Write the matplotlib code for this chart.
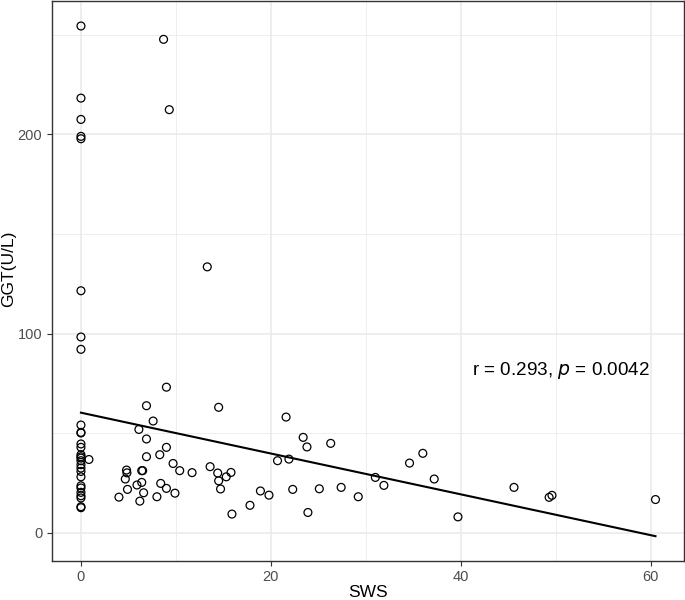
import matplotlib
matplotlib.use("Agg")
import matplotlib.pyplot as plt

plt.rcParams['font.family'] = ['Liberation Sans', 'DejaVu Sans']

# SWS value of each subject (x) and GGT (y)
sws = [0, 0, 0, 0, 0, 0, 0, 0, 0,
       0, 0, 0, 0, 0, 0, 0, 0, 0, 0, 0, 0, 0, 0, 0, 0, 0, 0, 0,
       0.84, 8.7, 9.3, 13.3, 9.0, 6.9, 14.5, 7.6, 6.1, 6.9, 9.0, 8.3, 6.9,
       9.7, 4.8, 4.84, 6.4, 6.5, 10.4, 11.7, 13.6, 14.4, 15.3, 15.8, 14.5,
       4.67, 6.4, 5.9, 8.4, 9.0, 14.7, 4.9, 6.6, 9.9, 4.0, 8.0, 6.2, 15.9,
       17.8, 21.6, 23.4, 23.8, 26.3, 20.7, 21.9, 18.9, 19.8, 22.3, 23.9,
       25.1, 27.4, 29.2, 31.0, 31.9, 34.6, 36.0, 37.2, 39.7, 45.6, 49.3,
       49.6, 60.5]
ggt = [254.4, 218.2, 207.5, 199, 197.8, 121.5, 98.3, 92.1, 54.1,
       50.4, 50.1, 44.6, 42.9, 39.2, 38.2, 37.5, 36.2, 34.2, 32.5, 30.8,
       28.1, 23.6, 22.5, 20.3, 18.6, 17.5, 13.1, 12.6,
       36.8, 247.7, 212.4, 133.5, 73.1, 63.8, 63.0, 56.1, 51.9, 47.1, 42.9,
       39.2, 38.2, 34.8, 31.5, 30.1, 31.2, 31.2, 31.2, 30.2, 33.2, 30.0,
       28.1, 30.3, 26.1, 27.0, 25.3, 24.0, 24.8, 22.3, 22.0, 21.8, 20.1,
       19.9, 17.9, 18.1, 15.9, 9.4, 13.8, 58.1, 47.9, 43.1, 44.9, 36.2,
       37.0, 21.0, 18.9, 21.8, 10.2, 22.1, 22.8, 18.1, 27.8, 23.8, 35.0,
       39.9, 27.0, 8.0, 22.8, 17.8, 18.8, 16.7]

# regression line end points
fit_x = [0, 60.5]
fit_y = [60.3, -1.7]

x_ticks = [0, 20, 40, 60]
y_ticks = [0, 100, 200]
x_minor = [10, 30, 50]
y_minor = [50, 150, 250]

fig = plt.figure(figsize=(6.85, 6.0), dpi=100)
ax = fig.add_axes([0.0759, 0.0655, 0.9226, 0.9330])

for v in x_minor:
    ax.axvline(v, color='#ebebeb', lw=0.6, zorder=0)
for v in y_minor:
    ax.axhline(v, color='#ebebeb', lw=0.6, zorder=0)
for v in x_ticks:
    ax.axvline(v, color='#ebebeb', lw=1.2, zorder=0)
for v in y_ticks:
    ax.axhline(v, color='#ebebeb', lw=1.2, zorder=0)

ax.scatter(sws, ggt, s=32, facecolors='none', edgecolors='black',
           linewidths=0.9, zorder=3)
ax.plot(fit_x, fit_y, color='black', lw=1.5, zorder=2)

ax.text(50.5, 81.4, r'r = 0.293, $\it{p}$ = 0.0042', fontsize=13.6,
        ha='center', va='center')

ax.set_xlim(-3.05, 63.5)
ax.set_ylim(-14, 267)
ax.set_xticks(x_ticks)
ax.set_yticks(y_ticks)
ax.tick_params(colors='#333333', labelcolor='#4d4d4d', labelsize=10.5,
               length=3.7, width=0.8, pad=3.3)
for s in ax.spines.values():
    s.set_color('#333333')
    s.set_linewidth(1.0)

ax.set_xlabel('SWS', fontsize=12.5, color='black')
ax.xaxis.label.set_va('baseline')
ax.xaxis.set_label_coords(0.5, -0.065)
ax.set_ylabel('GGT(U/L)', fontsize=12.5, color='black')
ax.yaxis.label.set_va('center')
ax.yaxis.set_label_coords(-0.0688, 0.522)

fig.savefig('out.png', dpi=100)
